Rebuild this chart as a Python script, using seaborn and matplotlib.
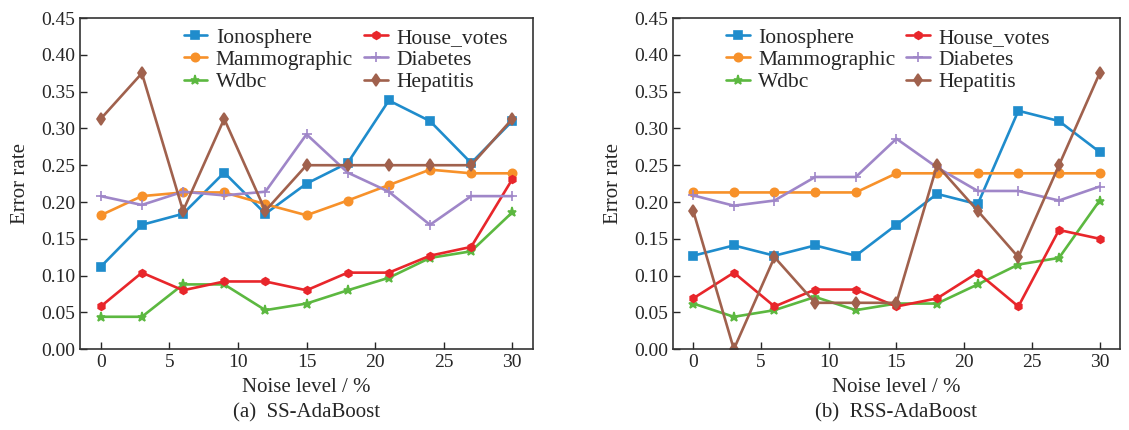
import matplotlib
matplotlib.use('Agg')
import matplotlib.pyplot as plt
import seaborn as sns
import pandas as pd

noise = [0, 3, 6, 9, 12, 15, 18, 21, 24, 27, 30]
names = ['Ionosphere', 'Mammographic', 'Wdbc', 'House_votes', 'Diabetes', 'Hepatitis']

# (a) SS-AdaBoost
ss_ionosphere = [0.112, 0.169, 0.184, 0.240, 0.184, 0.225, 0.253, 0.338, 0.310, 0.253, 0.310]
ss_mammographic = [0.182, 0.208, 0.213, 0.213, 0.197, 0.182, 0.202, 0.223, 0.244, 0.239, 0.239]
ss_wdbc = [0.044, 0.044, 0.088, 0.088, 0.053, 0.062, 0.080, 0.097, 0.124, 0.133, 0.186]
ss_house_votes = [0.058, 0.104, 0.080, 0.092, 0.092, 0.080, 0.104, 0.104, 0.127, 0.139, 0.231]
ss_diabetes = [0.208, 0.196, 0.214, 0.209, 0.214, 0.292, 0.240, 0.214, 0.169, 0.208, 0.208]
ss_hepatitis = [0.313, 0.375, 0.188, 0.313, 0.188, 0.250, 0.250, 0.250, 0.250, 0.250, 0.313]

# (b) RSS-AdaBoost
rss_ionosphere = [0.127, 0.141, 0.127, 0.141, 0.127, 0.169, 0.211, 0.197, 0.324, 0.310, 0.268]
rss_mammographic = [0.213, 0.213, 0.213, 0.213, 0.213, 0.239, 0.239, 0.239, 0.239, 0.239, 0.239]
rss_wdbc = [0.062, 0.044, 0.053, 0.071, 0.053, 0.062, 0.062, 0.088, 0.115, 0.124, 0.202]
rss_house_votes = [0.069, 0.104, 0.058, 0.081, 0.081, 0.058, 0.069, 0.104, 0.058, 0.162, 0.150]
rss_diabetes = [0.209, 0.195, 0.202, 0.234, 0.234, 0.286, 0.247, 0.215, 0.215, 0.202, 0.221]
rss_hepatitis = [0.188, 0.000, 0.125, 0.063, 0.063, 0.063, 0.250, 0.188, 0.125, 0.250, 0.375]

panels = [
    ('(a)  SS-AdaBoost', [ss_ionosphere, ss_mammographic, ss_wdbc, ss_house_votes, ss_diabetes, ss_hepatitis]),
    ('(b)  RSS-AdaBoost', [rss_ionosphere, rss_mammographic, rss_wdbc, rss_house_votes, rss_diabetes, rss_hepatitis]),
]

colors = ['#1f8ccc', '#f7912a', '#5cb840', '#e8262b', '#9f86c8', '#a0614d']
markers = ['s', 'o', '*', 'h', '+', 'd']
msizes = [6, 6, 6.5, 5.5, 7.5, 6]

sns.set_style('ticks')
plt.rcParams['font.family'] = ['Liberation Serif', 'DejaVu Serif']
plt.rcParams['xtick.direction'] = 'in'
plt.rcParams['ytick.direction'] = 'in'

fig = plt.figure(figsize=(11.29, 4.30), dpi=100)
ax_pos = [[0.071, 0.188, 0.401, 0.770], [0.596, 0.188, 0.396, 0.770]]
leg_x = [0.20, 0.09]

for pos, lx, (title, series) in zip(ax_pos, leg_x, panels):
    ax = fig.add_axes(pos)
    for name, vals, c, m, ms in zip(names, series, colors, markers, msizes):
        df = pd.DataFrame({'noise': noise, 'err': vals})
        sns.lineplot(data=df, x='noise', y='err', ax=ax, color=c, marker=m,
                     markersize=ms, markeredgecolor=c, markeredgewidth=1.2,
                     linewidth=1.9, label=name)
    ax.set_xlim(-1.5, 31.5)
    ax.set_ylim(0, 0.45)
    ax.set_xticks([0, 5, 10, 15, 20, 25, 30])
    ax.set_yticks([0.0, 0.05, 0.1, 0.15, 0.2, 0.25, 0.3, 0.35, 0.4, 0.45])
    ax.set_yticklabels([f'{v:.2f}' for v in ax.get_yticks()])
    ax.tick_params(labelsize=14, length=5, width=1)
    for s in ax.spines.values():
        s.set_linewidth(1.2)
        s.set_color('#333333')
    ax.set_ylabel('Error rate', fontsize=15, labelpad=8)
    ax.set_xlabel('Noise level / %\n' + title, fontsize=15, labelpad=5, linespacing=1.45)
    ax.legend(loc='upper left', bbox_to_anchor=(lx, 1.01), ncol=2, frameon=False,
              fontsize=15.5, handlelength=1.1, handletextpad=0.4, labelspacing=0.1,
              columnspacing=0.5, borderaxespad=0.2)

fig.savefig('out.png', dpi=100)
